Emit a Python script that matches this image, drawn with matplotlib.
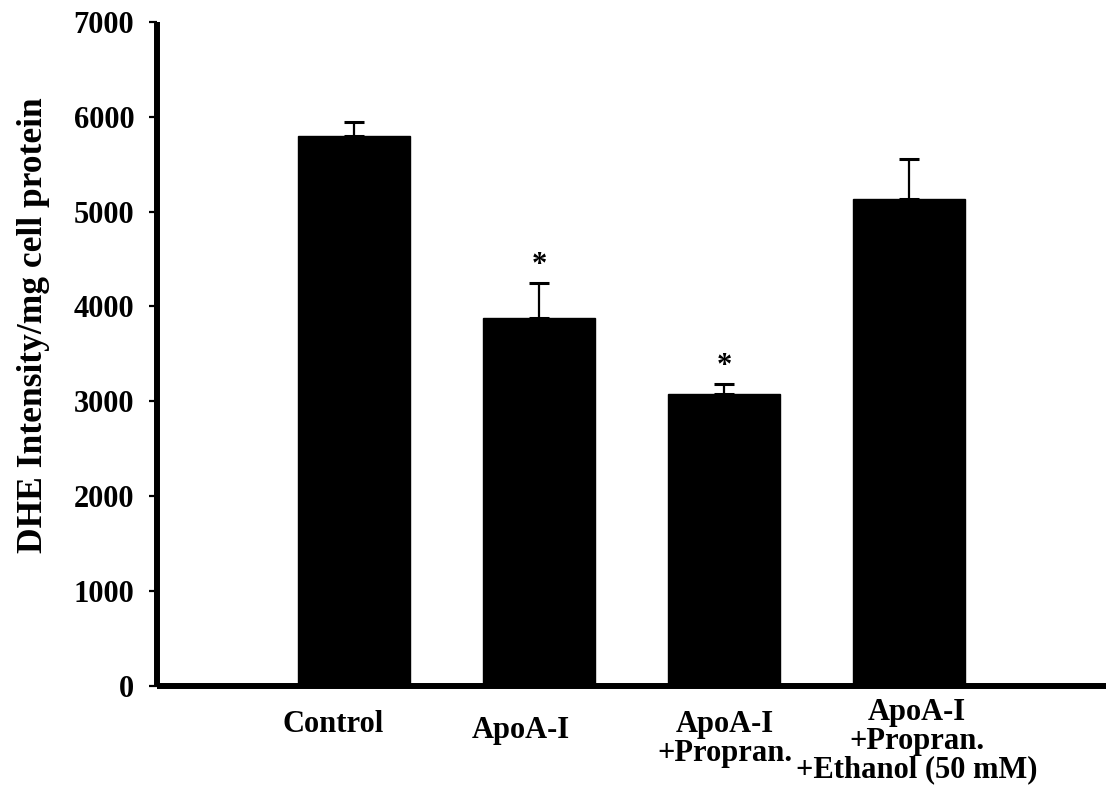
import matplotlib
matplotlib.use("Agg")
import matplotlib.pyplot as plt
import matplotlib.transforms as mtransforms
import numpy as np

# Data
categories = ["Control", "ApoA-I", "ApoA-I\n+Propran.", "ApoA-I\n+Propran.\n+Ethanol (50 mM)"]
means = [5800, 3875, 3075, 5130]
sem_upper = [140, 375, 110, 430]
significant = [False, True, True, False]
y_ticks = [0, 1000, 2000, 3000, 4000, 5000, 6000, 7000]

plt.rcParams["font.family"] = ["Liberation Serif", "DejaVu Serif"]
plt.rcParams["font.weight"] = "bold"

fig = plt.figure(figsize=(11.06, 8.06), dpi=100)
ax = fig.add_axes([0.142, 0.149, 0.858, 0.8238])

x = np.arange(len(categories))
ax.bar(x, means, width=0.61, color="black", edgecolor="black", zorder=2)
ax.errorbar(x, means, yerr=[np.zeros(len(means)), sem_upper], fmt="none",
            ecolor="black", elinewidth=1.6, capsize=7.5, capthick=2.2, zorder=3)

for xi, m, e, s in zip(x, means, sem_upper, significant):
    if s:
        ax.annotate("*", xy=(xi, m + e), xytext=(0, 2), textcoords="offset points",
                    ha="center", va="bottom", fontsize=22, fontweight="bold")

ax.set_xlim(-1.065, 4.065)
ax.set_ylim(0, 7000)
ax.set_yticks(y_ticks)
ax.set_yticklabels([str(t) for t in y_ticks], fontsize=22, fontweight="bold")
ax.tick_params(axis="y", direction="out", length=5.5, width=1.6, pad=11)

ax.set_xticks(x)
ax.set_xticklabels(categories, fontsize=22, fontweight="bold", linespacing=1.0)
ax.tick_params(axis="x", length=0, pad=17)

# nudge individual category labels
offsets = [(-21, 0), (-18, -6), (1, 0), (8, 12)]
for lbl, (dx, dy) in zip(ax.get_xticklabels(), offsets):
    lbl.set_transform(lbl.get_transform() + mtransforms.ScaledTranslation(dx / 100, dy / 100, fig.dpi_scale_trans))

for side in ["top", "right"]:
    ax.spines[side].set_visible(False)
for side in ["left", "bottom"]:
    ax.spines[side].set_linewidth(4.3)
    ax.spines[side].set_capstyle("butt")

ax.set_ylabel("DHE Intensity/mg cell protein", fontsize=25.5, fontweight="bold")
ax.yaxis.set_label_coords(-0.113, 0.544)

fig.savefig("out.png", dpi=100)
